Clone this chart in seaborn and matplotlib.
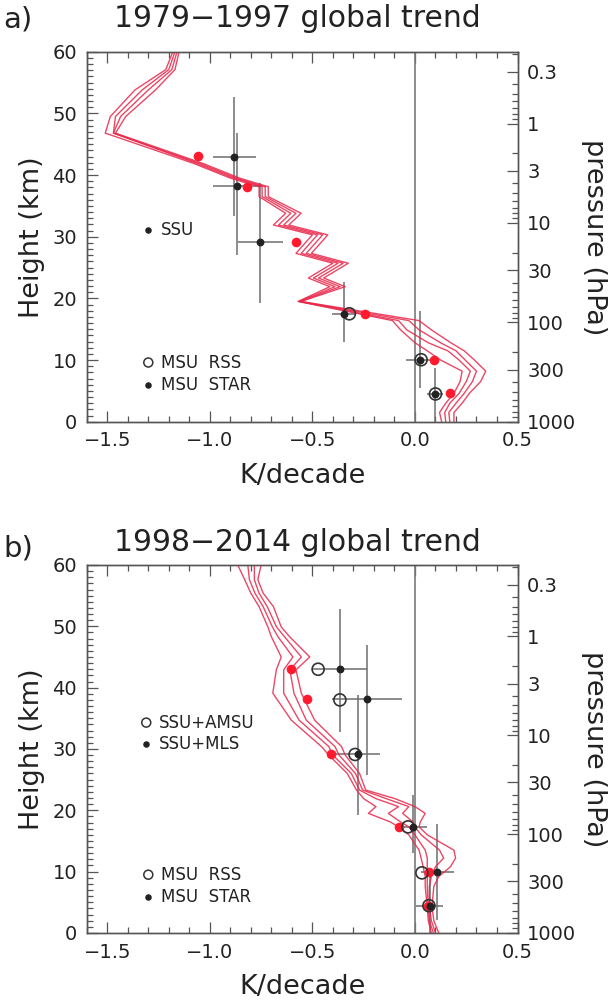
import numpy as np
import pandas as pd
import seaborn as sns
import matplotlib.pyplot as plt
from matplotlib.ticker import MultipleLocator, FixedLocator, NullFormatter

sns.set_style("ticks")
plt.rcParams['font.family'] = ['DejaVu Sans']

# ---------------- Panel a) 1979-1997 ----------------
top_heights = [0, 1.5, 3, 4.6, 6.5, 8.2, 10, 11.5, 12.8, 14.9, 16.4, 19.5, 21.9, 23.3,
               25.7, 27.3, 30.3, 31.9, 33.8, 36.5, 38.1, 39.5, 41.9, 46.8, 49.5, 53.8, 57.1, 60]
top_line_a = [0.13, 0.12, 0.15, 0.19, 0.22, 0.23, 0.125, 0.06, 0.00, -0.07, -0.11, -0.57, -0.415, -0.52,
              -0.40, -0.58, -0.50, -0.69, -0.63, -0.76, -0.76, -0.90, -1.08, -1.51, -1.485, -1.365, -1.215, -1.18]
top_line_b = [0.15, 0.145, 0.17, 0.215, 0.25, 0.27, 0.215, 0.16, 0.065, -0.04, -0.08, -0.565, -0.39, -0.495,
              -0.375, -0.555, -0.475, -0.665, -0.605, -0.745, -0.745, -0.885, -1.065, -1.47, -1.46, -1.33, -1.20, -1.17]
top_line_c = [0.17, 0.165, 0.20, 0.24, 0.28, 0.30, 0.245, 0.20, 0.125, 0.02, -0.03, -0.56, -0.365, -0.47,
              -0.35, -0.53, -0.45, -0.64, -0.58, -0.73, -0.73, -0.87, -1.05, -1.47, -1.435, -1.30, -1.185, -1.16]
top_line_d = [0.19, 0.19, 0.23, 0.265, 0.32, 0.345, 0.29, 0.24, 0.175, 0.08, 0.02, -0.555, -0.34, -0.445,
              -0.325, -0.505, -0.425, -0.615, -0.555, -0.715, -0.715, -0.855, -1.035, -1.46, -1.41, -1.265, -1.17, -1.15]

top_obs_h = [43.0, 38.3, 29.2, 17.5, 10.05, 4.5]
top_obs_x = [-0.88, -0.866, -0.753, -0.345, 0.026, 0.097]
top_obs_xerr = [0.106, 0.12, 0.11, 0.06, 0.07, 0.04]
top_obs_yerr_lo = [9.7, 11.3, 9.9, 4.5, 4.55, 4.5]
top_obs_yerr_hi = [9.7, 8.5, 9.5, 5.2, 7.85, 4.2]
top_rss_h = [17.5, 10.05, 4.5]
top_rss_x = [-0.32, 0.03, 0.10]
top_model_h = [43.1, 38.1, 29.2, 17.5, 10.05, 4.6]
top_model_x = [-1.06, -0.82, -0.578, -0.243, 0.092, 0.173]

# ---------------- Panel b) 1998-2014 ----------------
bot_heights = [0, 2, 4.3, 7.6, 9.2, 10.8, 12.2, 13.5, 16.0, 17.3, 18.1, 19.5, 20.6, 21.9, 23.3,
               26, 29.0, 30.4, 34.7, 39.1, 42.9, 45.0, 48.3, 49.9, 53.2, 55.4, 57.6, 60]
bot_line_a = [0.08, 0.065, 0.06, 0.05, 0.05, 0.04, 0.03, 0.02, -0.03, -0.08, -0.12, -0.227, -0.19, -0.25, -0.285,
              -0.33, -0.42, -0.456, -0.603, -0.693, -0.676, -0.652, -0.70, -0.717, -0.76, -0.80, -0.83, -0.864]
bot_line_b = [0.09, 0.07, 0.065, 0.06, 0.06, 0.06, 0.06, 0.05, 0.0, -0.03, -0.07, -0.13, -0.08, -0.19, -0.27,
              -0.31, -0.40, -0.42, -0.565, -0.64, -0.64, -0.595, -0.668, -0.695, -0.74, -0.78, -0.807, -0.815]
bot_line_c = [0.10, 0.08, 0.07, 0.07, 0.08, 0.10, 0.14, 0.12, 0.03, 0.0, -0.01, -0.06, -0.03, -0.14, -0.255,
              -0.29, -0.37, -0.39, -0.53, -0.59, -0.61, -0.554, -0.636, -0.675, -0.72, -0.76, -0.783, -0.783]
bot_line_d = [0.116, 0.092, 0.083, 0.092, 0.116, 0.173, 0.198, 0.19, 0.06, 0.02, 0.026, 0.05, 0.0, -0.097, -0.24,
              -0.27, -0.34, -0.358, -0.489, -0.554, -0.58, -0.513, -0.611, -0.652, -0.69, -0.74, -0.766, -0.75]

bot_obs_h = [43.0, 38.1, 29.1, 17.3, 10.0, 4.45]
bot_obs_x = [-0.366, -0.235, -0.28, -0.011, 0.108, 0.072]
bot_obs_xerr = [0.13, 0.17, 0.11, 0.07, 0.08, 0.065]
bot_obs_yerr_lo = [10.2, 12.3, 9.9, 4.3, 7.9, 4.45]
bot_obs_yerr_hi = [9.9, 8.9, 9.7, 5.2, 7.8, 5.85]
bot_rss_h = [43.0, 38.0, 29.1, 17.3, 9.8, 4.45]
bot_rss_x = [-0.472, -0.366, -0.292, -0.034, 0.034, 0.068]
bot_model_h = [43.0, 38.1, 29.1, 17.3, 10.0, 4.45]
bot_model_x = [-0.603, -0.525, -0.407, -0.08, 0.067, 0.065]

pressure_labels = ['0.3', '1', '3', '10', '30', '100', '300', '1000']
scale_height = 7.0

RED = '#e8274a'
GRAY = '#6e6e6e'
DARK = '#222222'

fig = plt.figure(figsize=(6.11, 10.06), dpi=100)


def draw_panel(rect, heights, lines, obs_h, obs_x, xerr, yerr_lo, yerr_hi,
               rss_h, rss_x, mod_h, mod_x, legend_top, legend_bottom):
    ax = fig.add_axes(rect)
    rows = []
    for name, xs in lines.items():
        for h, x in zip(heights, xs):
            rows.append({'member': name, 'trend': x, 'height': h})
    df = pd.DataFrame(rows)
    ax.axvline(0, color='#7a7a7a', lw=1.2, zorder=1)
    sns.lineplot(data=df, x='trend', y='height', units='member', estimator=None,
                 orient='y', sort=True, color=RED, lw=1.0, alpha=0.85, ax=ax,
                 legend=False, zorder=3)
    ax.errorbar(obs_x, obs_h, xerr=xerr, yerr=[yerr_lo, yerr_hi], fmt='none',
                ecolor=GRAY, elinewidth=1.1, capsize=0, zorder=2)
    sns.scatterplot(x=mod_x, y=mod_h, ax=ax, color='#ff1a2e', s=48,
                    edgecolor='#ff1a2e', linewidth=0, zorder=5)
    sns.scatterplot(x=rss_x, y=rss_h, ax=ax, s=75, facecolor='none',
                    edgecolor='#333333', linewidth=1.2, zorder=6)
    sns.scatterplot(x=obs_x, y=obs_h, ax=ax, color='#222222', s=32,
                    edgecolor='#222222', linewidth=0, zorder=7)

    # legend-like annotations
    for (lx, ly, kind, text) in legend_top + legend_bottom:
        if kind == 'open':
            sns.scatterplot(x=[lx], y=[ly], ax=ax, s=42, facecolor='none',
                            edgecolor='#333333', linewidth=1.1, zorder=6)
        else:
            sns.scatterplot(x=[lx], y=[ly], ax=ax, color='#222222', s=22,
                            edgecolor='#222222', linewidth=0, zorder=6)
        ax.text(lx + 0.06, ly, text, fontsize=12, va='center', ha='left', color=DARK)

    ax.set_xlim(-1.6, 0.5)
    ax.set_ylim(0, 60)
    ax.xaxis.set_major_locator(FixedLocator([-1.5, -1.0, -0.5, 0.0, 0.5]))
    ax.set_xticklabels(['\u22121.5', '\u22121.0', '\u22120.5', '0.0', '0.5'])
    ax.xaxis.set_minor_locator(MultipleLocator(0.1))
    ax.yaxis.set_major_locator(MultipleLocator(10))
    ax.yaxis.set_minor_locator(MultipleLocator(1))
    ax.tick_params(axis='both', which='both', direction='in', top=True, right=False,
                   colors='#555555', labelcolor=DARK, labelsize=14, width=0.9)
    ax.tick_params(axis='both', which='major', length=8, pad=7)
    ax.tick_params(axis='both', which='minor', length=4)
    ax.set_xlabel('K/decade', fontsize=19.5, color=DARK, labelpad=9)
    ax.set_ylabel('Height (km)', fontsize=19.5, color=DARK, labelpad=5)
    for sp in ax.spines.values():
        sp.set_color('#555555')
        sp.set_linewidth(1.0)

    # pressure axis
    ax2 = ax.twinx()
    ax2.set_ylim(0, 60)
    pvals = [float(p) for p in pressure_labels]
    major_h = [scale_height * np.log(1000.0 / p) for p in pvals]
    ax2.yaxis.set_major_locator(FixedLocator(major_h))
    ax2.set_yticklabels(pressure_labels)
    minor_p = []
    for dec in [0.1, 1, 10, 100]:
        for m in range(2, 10):
            minor_p.append(dec * m)
    minor_h = [scale_height * np.log(1000.0 / p) for p in minor_p
               if 0 <= scale_height * np.log(1000.0 / p) <= 60]
    ax2.yaxis.set_minor_locator(FixedLocator(minor_h))
    ax2.yaxis.set_minor_formatter(NullFormatter())
    ax2.tick_params(axis='y', which='both', direction='in', colors='#555555',
                    labelcolor=DARK, labelsize=14, width=0.9)
    ax2.tick_params(axis='y', which='major', length=8, pad=7)
    ax2.tick_params(axis='y', which='minor', length=4)
    ax2.set_ylabel('pressure (hPa)', fontsize=19.5, color=DARK, rotation=270, labelpad=22)
    for sp in ax2.spines.values():
        sp.set_color('#555555')
        sp.set_linewidth(1.0)
    return ax


draw_panel([0.142, 0.5808, 0.705, 0.3678], top_heights,
           {'a': top_line_a, 'b': top_line_b, 'c': top_line_c, 'd': top_line_d},
           top_obs_h, top_obs_x, top_obs_xerr, top_obs_yerr_lo, top_obs_yerr_hi,
           top_rss_h, top_rss_x, top_model_h, top_model_x,
           [(-1.30, 31.1, 'filled', 'SSU')],
           [(-1.30, 9.6, 'open', 'MSU  RSS'), (-1.30, 6.0, 'filled', 'MSU  STAR')])

draw_panel([0.142, 0.0726, 0.705, 0.3658], bot_heights,
           {'a': bot_line_a, 'b': bot_line_b, 'c': bot_line_c, 'd': bot_line_d},
           bot_obs_h, bot_obs_x, bot_obs_xerr, bot_obs_yerr_lo, bot_obs_yerr_hi,
           bot_rss_h, bot_rss_x, bot_model_h, bot_model_x,
           [(-1.31, 34.3, 'open', 'SSU+AMSU'), (-1.31, 30.8, 'filled', 'SSU+MLS')],
           [(-1.30, 9.5, 'open', 'MSU  RSS'), (-1.30, 5.9, 'filled', 'MSU  STAR')])

fig.text(0.006, 0.981, 'a)', fontsize=21, va='center', ha='left', color=DARK)
fig.text(0.487, 0.982, '1979\u22121997 global trend', fontsize=21.5, va='center', ha='center', color=DARK)
fig.text(0.006, 0.455, 'b)', fontsize=21, va='center', ha='left', color=DARK)
fig.text(0.487, 0.461, '1998\u22122014 global trend', fontsize=21.5, va='center', ha='center', color=DARK)

fig.savefig('out.png', dpi=100)
